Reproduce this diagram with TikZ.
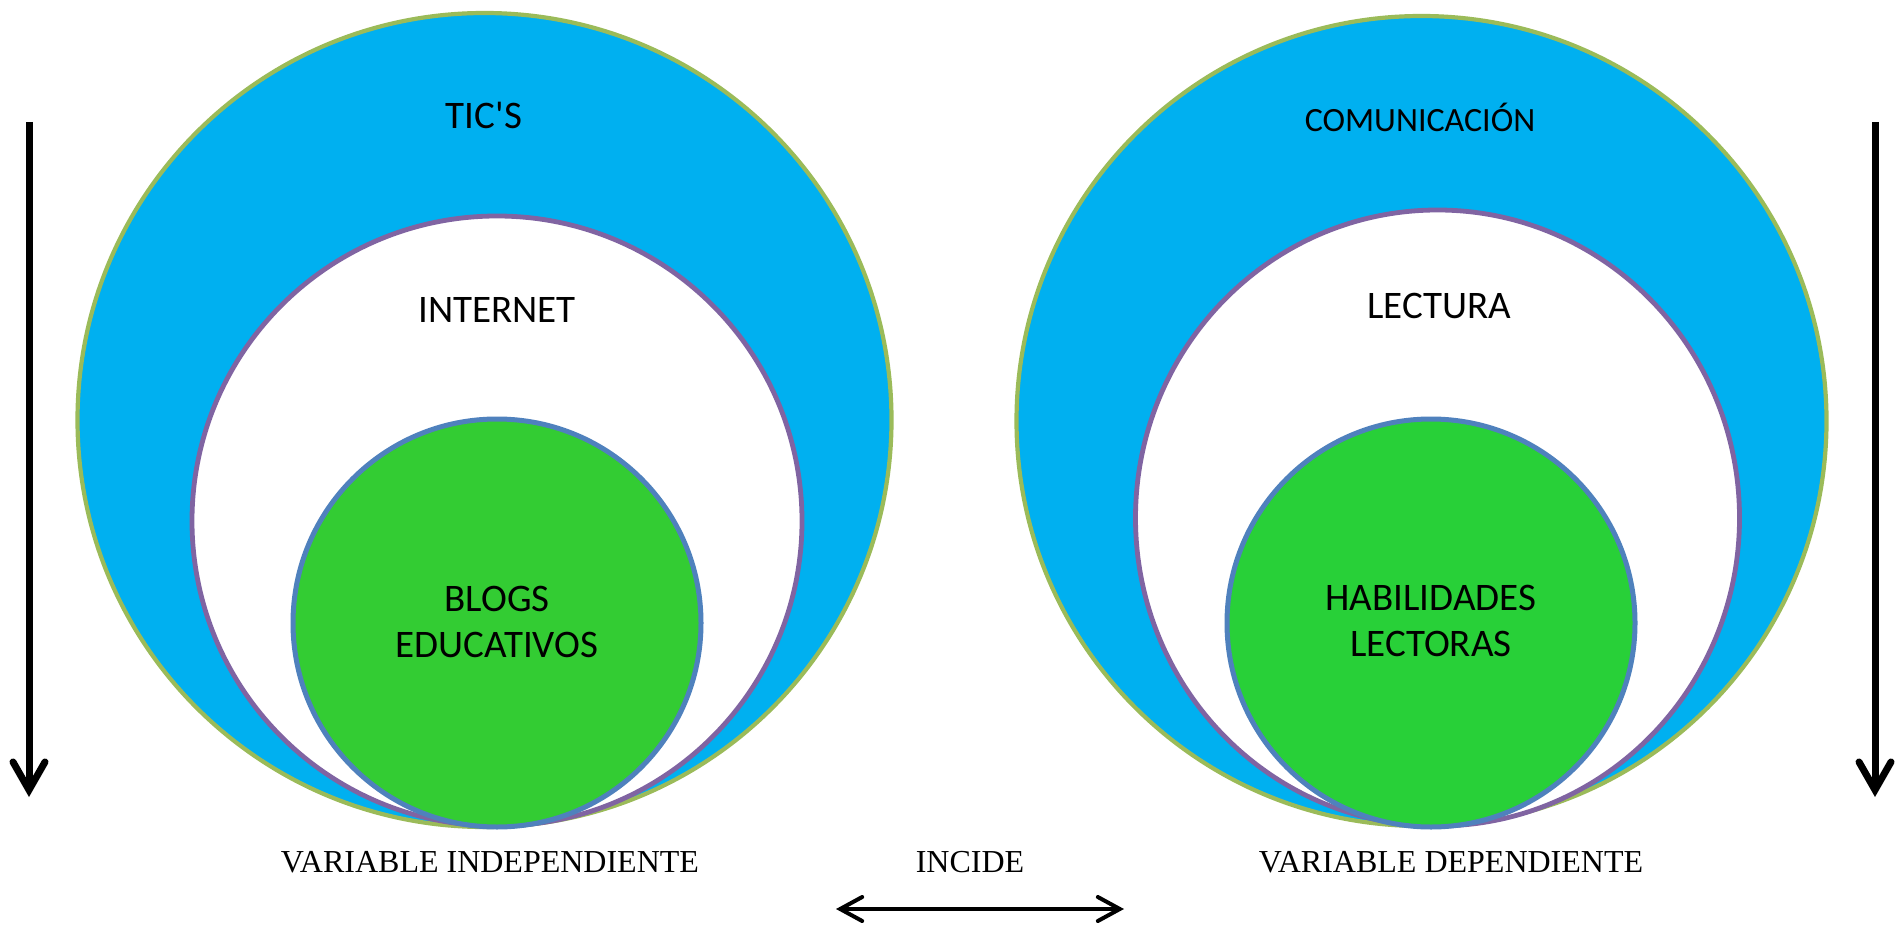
\documentclass[tikz,border=0pt]{standalone}
\usepackage{fontspec}
\setmainfont{Carlito}
\newfontfamily\calfont{Carlito}
\newfontfamily\timesfont{Liberation Serif}
\usetikzlibrary{arrows.meta}

\definecolor{ticblue}{HTML}{00B0F0}
\definecolor{leafgreen}{HTML}{33CC33}
\definecolor{leafgreenb}{HTML}{28D038}
\definecolor{outerline}{HTML}{9BBB59}
\definecolor{midline}{HTML}{8064A2}
\definecolor{innerline}{HTML}{4F81BD}

\tikzset{
  outer/.style={fill=ticblue, draw=outerline, line width=2.1pt},
  middle/.style={fill=white, draw=midline, line width=2.4pt},
  inner/.style={draw=innerline, line width=2.5pt},
  label/.style={font=\calfont\fontsize{19.5}{23}\selectfont, align=center, inner sep=0pt},
  varlabel/.style={font=\timesfont\fontsize{16}{19}\selectfont, inner sep=0pt},
  downarrow/.style={line width=3.5pt, -{Straight Barb[length=14pt, width=16pt, line cap=round]}},
  bothways/.style={line width=2pt, {Straight Barb[length=11pt, width=12pt, line cap=round]}-{Straight Barb[length=11pt, width=12pt, line cap=round]}}
}

\begin{document}
\begin{tikzpicture}[x=0.5pt, y=-0.5pt]

\useasboundingbox (0,0) rectangle (1899,925);

% left circles
	\draw[outer] (484.5,420) circle (407);
	\draw[middle] (497,521) circle (305);
	\draw[inner, fill=leafgreen] (497,623) circle (204);

% right circles
	\draw[outer] (1421.5,421) circle (405);
	\draw[middle] (1437.5,518) ellipse (302 and 308);
	\draw[inner, fill=leafgreenb] (1431,623) circle (204);

% circle labels
	\node[label] (tics) at (484,115) {TIC'S};
	\node[label] (internet) at (497,310) {INTERNET};
	\node[label] (blogs) at (497,622) {BLOGS\\EDUCATIVOS};
	\node[label, font=\calfont\fontsize{17}{20}\selectfont] (comunicacion) at (1420,117) {COMUNICACIÓN};
	\node[label] (lectura) at (1439,306) {LECTURA};
	\node[label] (habilidades) at (1431,621) {HABILIDADES\\LECTORAS};

% variable labels
	\node[varlabel] (indep) at (490,862) {VARIABLE INDEPENDIENTE};
	\node[varlabel] (incide) at (970,862) {INCIDE};
	\node[varlabel] (dep) at (1451,862) {VARIABLE DEPENDIENTE};

% arrows
	\coordinate (ltop) at (29,122);
	\coordinate (lbot) at (29,797);
	\coordinate (rtop) at (1875,122);
	\coordinate (rbot) at (1875,797);
	\coordinate (dleft) at (836,909);
	\coordinate (dright) at (1124,909);
	\draw[downarrow] (ltop) -- (lbot);
	\draw[downarrow] (rtop) -- (rbot);
	\draw[bothways] (dleft) -- (dright);

\end{tikzpicture}
\end{document}
